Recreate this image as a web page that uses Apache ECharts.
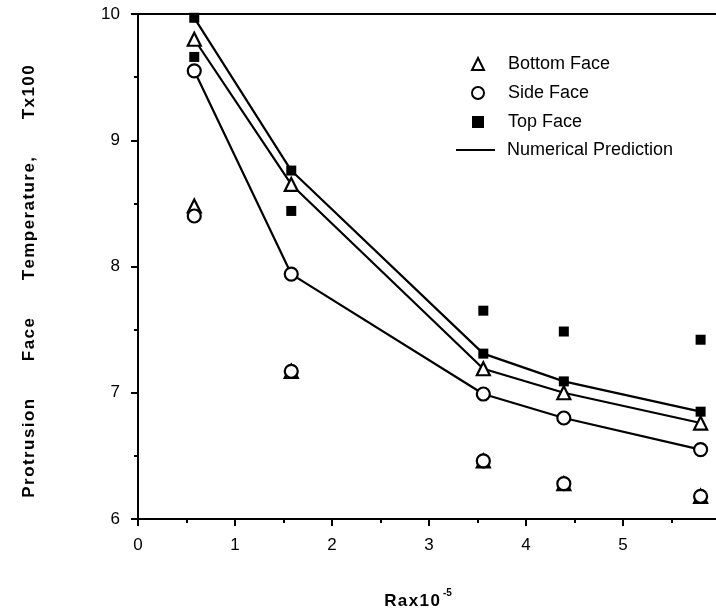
<!DOCTYPE html>
<html><head><meta charset="utf-8">
<script src="https://cdn.jsdelivr.net/npm/echarts@6/dist/echarts.min.js"></script>
<style>html,body{margin:0;padding:0;background:#fff}#c{width:716px;height:608px}</style>
</head><body><div id="c"></div>
<script>
// Ra x 10^-5 positions of measurements / predictions
const raX = [0.58, 1.58, 3.56, 4.39, 5.80];
// Numerical prediction (lines with markers)
const predTop = [9.97, 8.76, 7.31, 7.09, 6.85];
const predBottom = [9.80, 8.65, 7.19, 7.00, 6.76];
const predSide = [9.55, 7.94, 6.99, 6.80, 6.55];
// Detached (experimental) points
const expTop = [9.66, 8.44, 7.65, 7.485, 7.42];
const expBottom = [8.48, 7.17, 6.46, 6.28, 6.18];
const expSide = [8.40, 7.17, 6.46, 6.28, 6.18];
// Axis titles
const yTitleWords = ['Protrusion', 'Face', 'Temperature,', 'Tx100'];
const xTitle = 'Rax10';
const xTitleExp = '-5';

const FONT = 'Liberation Sans';
const HAIR = '\u200A';
const spaced = (s) => s.split('').join(HAIR);
const pair = (ys) => raX.map((x, i) => [x, ys[i]]);

const chart = echarts.init(document.getElementById('c'), null, {renderer: 'canvas'});
const lineSeries = (ys) => ({
  name: 'Numerical Prediction', type: 'line', data: pair(ys), symbol: 'none',
  lineStyle: {color: '#000', width: 2.2}, itemStyle: {color: '#000'}, z: 2, silent: true
});
const markSeries = (name, ys, symbol, size, filled) => ({
  name, type: 'scatter', data: pair(ys), symbol, symbolSize: size,
  itemStyle: filled ? {color: '#000', opacity: 1} : {color: '#fff', borderColor: '#000', borderWidth: 2.2, opacity: 1},
  z: symbol === 'rect' ? 5 : (symbol === 'circle' ? 4 : 3)
});

chart.setOption({
  animation: false,
  backgroundColor: '#fff',
  grid: {left: 138, right: -4, top: 14, bottom: 89, show: true, borderColor: '#000', borderWidth: 2,
         backgroundColor: 'transparent', outerBoundsMode: 'none', containLabel: false},
  legend: [
    {
      data: ['Bottom Face', 'Side Face', 'Top Face'],
      orient: 'vertical', left: 471, top: 55, padding: 0, itemWidth: 12, itemHeight: 12, itemGap: 11,
      textStyle: {fontFamily: FONT, fontSize: 18, color: '#000', lineHeight: 18, padding: [0, 0, 0, 19]},
      selectedMode: false
    },
    {
      data: [{name: 'Numerical Prediction', icon: 'rect'}],
      orient: 'vertical', left: 456, top: 141, padding: 0, itemWidth: 39, itemHeight: 2,
      textStyle: {fontFamily: FONT, fontSize: 18, color: '#000', lineHeight: 18, padding: [0, 0, 0, 7]},
      selectedMode: false
    }
  ],
  xAxis: {
    type: 'value', min: 0, max: 6, interval: 1,
    name: '{b|' + spaced(xTitle) + '}{s|' + xTitleExp + '}', nameLocation: 'middle', nameGap: 69,
    nameTextStyle: {
      padding: [0, 22, 0, 0],
      rich: {
        b: {fontFamily: FONT, fontSize: 17, fontWeight: 'bold', color: '#000', lineHeight: 20, padding: [6, 0, 0, 0]},
        s: {fontFamily: FONT, fontSize: 10, fontWeight: 'bold', color: '#000', lineHeight: 8, verticalAlign: 'top', padding: [0, 0, 0, 3]}
      }
    },
    axisLine: {onZero: false, lineStyle: {color: '#000', width: 2}},
    axisTick: {show: true, inside: false, length: 7, lineStyle: {color: '#000', width: 2}},
    minorTick: {show: true, splitNumber: 2, length: 4, lineStyle: {color: '#000', width: 2}},
    axisLabel: {fontFamily: FONT, fontSize: 17, color: '#000', margin: 18, showMaxLabel: true, hideOverlap: false},
    splitLine: {show: false}
  },
  yAxis: {
    type: 'value', min: 6, max: 10, interval: 1,
    name: yTitleWords.map(spaced).join('        '),
    nameLocation: 'middle', nameGap: 100,
    nameTextStyle: {fontFamily: FONT, fontSize: 17, fontWeight: 'bold', color: '#000', padding: [0, 30, 0, 0]},
    axisLine: {onZero: false, lineStyle: {color: '#000', width: 2}},
    axisTick: {show: true, inside: false, length: 7, lineStyle: {color: '#000', width: 2}},
    minorTick: {show: true, splitNumber: 2, length: 4, lineStyle: {color: '#000', width: 2}},
    axisLabel: {fontFamily: FONT, fontSize: 17, color: '#000', margin: 18},
    splitLine: {show: false}
  },
  series: [
    lineSeries(predTop),
    lineSeries(predBottom),
    lineSeries(predSide),
    markSeries('Bottom Face', predBottom, 'triangle', 13, false),
    markSeries('Bottom Face', expBottom, 'triangle', 13, false),
    markSeries('Side Face', predSide, 'circle', 13, false),
    markSeries('Side Face', expSide, 'circle', 13, false),
    markSeries('Top Face', predTop, 'rect', 10, true),
    markSeries('Top Face', expTop, 'rect', 10, true)
  ]
});
</script></body></html>
